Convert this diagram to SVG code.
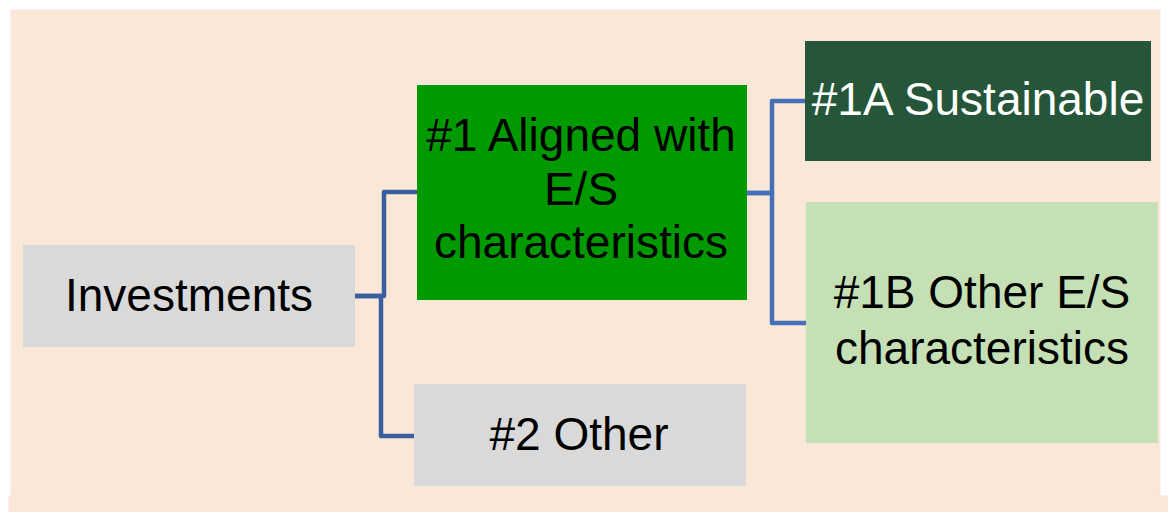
<svg xmlns="http://www.w3.org/2000/svg" width="1168" height="512" viewBox="0 0 1168 512">
<style>
  .bg { fill: #F9E8D8; stroke: #FCE3E3; stroke-width: 1; }
  .lbl { font-family: "Liberation Sans", Arial, sans-serif; font-size: 46px; text-anchor: middle; fill: #000000; }
  .white { fill: #FFFFFF; }
  .conn { fill: none; stroke-width: 4.5; stroke-linejoin: round; stroke-linecap: butt; }
  .c1 { stroke: #3A5FA0; }
  .c2 { stroke: #4470BA; }
</style>
<rect class="bg" x="11" y="10" width="1149" height="502"/>
<rect x="9" y="496" width="1159" height="16" fill="#F9E8D8" stroke="#FCE3E3" stroke-width="1"/>
<g id="connectors">
  <path class="conn c1" d="M355,296 H384 V192 H417"/>
  <path class="conn c1" d="M355,296 H381 V436 H414"/>
  <path class="conn c2" d="M747,193 H772 V101 H805"/>
  <path class="conn c2" d="M747,193 H772 V323 H806"/>
</g>
<g id="investments">
  <rect x="23" y="245" width="332" height="102" fill="#D9D9D9"/>
  <text class="lbl" x="189" y="311">Investments</text>
</g>
<g id="aligned">
  <rect x="417" y="85" width="330" height="215" fill="#009900"/>
  <text class="lbl" x="581" y="151">#1 Aligned with</text>
  <text class="lbl" x="581" y="205">E/S</text>
  <text class="lbl" x="581" y="258">characteristics</text>
</g>
<g id="other">
  <rect x="414" y="384" width="332" height="102" fill="#D9D9D9"/>
  <text class="lbl" x="579" y="450">#2 Other</text>
</g>
<g id="sustainable">
  <rect x="805" y="41" width="346" height="120" fill="#255639"/>
  <text class="lbl white" x="978" y="115" font-size="44.5">#1A Sustainable</text>
</g>
<g id="other-es">
  <rect x="806" y="202" width="352" height="241" fill="#C5E0B4"/>
  <text class="lbl" x="982" y="308">#1B Other E/S</text>
  <text class="lbl" x="982" y="364">characteristics</text>
</g>
</svg>
